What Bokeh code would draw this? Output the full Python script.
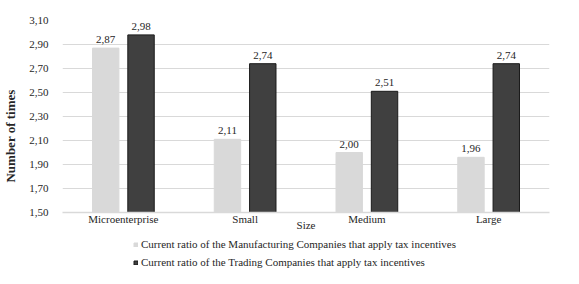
from bokeh.plotting import figure
from bokeh.models import ColumnDataSource, FixedTicker, Range1d, LabelSet, Legend, LegendItem
from bokeh.layouts import column
from bokeh.embed import file_html
from bokeh.resources import INLINE

categories = ["Microenterprise", "Small", "Medium", "Large"]
manufacturing = [2.87, 2.11, 2.00, 1.96]
trading = [2.98, 2.74, 2.51, 2.74]
y_ticks = [1.50, 1.70, 1.90, 2.10, 2.30, 2.50, 2.70, 2.90, 3.10]
series_names = ["Current ratio of the Manufacturing Companies that apply tax incentives",
                "Current ratio of the Trading Companies that apply tax incentives"]

FONT = "Liberation Serif"
LIGHT = "#d9d9d9"
DARK = "#404040"
fmt = lambda v: f"{v:.2f}".replace(".", ",")

xs = list(range(len(categories)))
off = 0.145
bw = 0.217

src_m = ColumnDataSource(dict(x=[i - off for i in xs], top=manufacturing,
                              lab=[fmt(v) for v in manufacturing]))
src_t = ColumnDataSource(dict(x=[i + off for i in xs], top=trading,
                              lab=[fmt(v) for v in trading]))

p = figure(width=563, height=236, output_backend="svg", toolbar_location=None,
           x_range=Range1d(-0.5, len(categories) - 0.5), y_range=Range1d(1.50, 3.10),
           min_border_left=52, min_border_right=14, min_border_top=20, min_border_bottom=24)
p.outline_line_color = None

p.vbar(x="x", top="top", bottom=1.5, width=bw, source=src_m,
       fill_color=LIGHT, line_color=LIGHT)
p.vbar(x="x", top="top", bottom=1.5, width=bw, source=src_t,
       fill_color=DARK, line_color="#1a1a1a", line_width=1)

for s in (src_m, src_t):
    p.add_layout(LabelSet(x="x", y="top", text="lab", source=s, y_offset=5,
                          text_align="center", text_baseline="bottom",
                          text_font=FONT, text_font_size="11px", text_color="#262626"))

# y axis
p.yaxis.ticker = FixedTicker(ticks=y_ticks)
p.yaxis.major_label_overrides = {t: fmt(t) for t in y_ticks}
p.yaxis.axis_line_color = None
p.yaxis.major_tick_line_color = None
p.yaxis.minor_tick_line_color = None
p.yaxis.major_label_text_font = FONT
p.yaxis.major_label_text_font_size = "11px"
p.yaxis.major_label_text_color = "#262626"
p.yaxis.major_label_standoff = 8
p.yaxis.axis_label = "Number of times" + "\u00a0" * 12
p.yaxis.axis_label_text_font = FONT
p.yaxis.axis_label_text_font_style = "bold"
p.yaxis.axis_label_text_font_size = "13px"
p.yaxis.axis_label_text_color = "#262626"
p.yaxis.axis_label_standoff = 8

# x axis
p.xaxis.ticker = FixedTicker(ticks=xs)
p.xaxis.major_label_overrides = {i: c for i, c in zip(xs, categories)}
p.xaxis.axis_line_color = LIGHT
p.xaxis.axis_line_width = 1.5
p.xaxis.major_tick_line_color = None
p.xaxis.minor_tick_line_color = None
p.xaxis.major_label_text_font = FONT
p.xaxis.major_label_text_font_size = "11px"
p.xaxis.major_label_text_color = "#262626"
p.xaxis.major_label_standoff = -6
p.xaxis.axis_label = "Size"
p.xaxis.axis_label_text_font = FONT
p.xaxis.axis_label_text_font_style = "normal"
p.xaxis.axis_label_text_font_size = "11px"
p.xaxis.axis_label_text_color = "#262626"
p.xaxis.axis_label_standoff = -9

p.xgrid.grid_line_color = None
p.ygrid.grid_line_color = LIGHT
p.ygrid.grid_line_width = 1

# legend strip (series drawn out of view, only their legend entries show)
p2 = figure(width=563, height=40, output_backend="svg", toolbar_location=None,
            x_range=Range1d(-0.5, len(categories) - 0.5), y_range=Range1d(100, 101),
            x_axis_location=None, y_axis_location=None,
            min_border=0, min_border_left=0, min_border_right=0,
            min_border_top=0, min_border_bottom=0)
p2.grid.visible = False
p2.outline_line_color = None
d_m = p2.vbar(x=xs, top=manufacturing, width=bw, fill_color=LIGHT, line_color=LIGHT)
d_t = p2.vbar(x=xs, top=trading, width=bw, fill_color=DARK, line_color="#1a1a1a")

legend = Legend(items=[LegendItem(label=series_names[0], renderers=[d_m]),
                       LegendItem(label=series_names[1], renderers=[d_t])],
                orientation="vertical", location=(71, 7),
                label_text_font=FONT, label_text_font_size="11px", label_text_color="#262626",
                glyph_width=5, glyph_height=5, label_standoff=3, spacing=4,
                padding=0, margin=0, border_line_color=None, background_fill_alpha=0,
                label_height=14)
p2.add_layout(legend, "center")

layout = column(p, p2, spacing=0)
open("out.html", "w").write(file_html(layout, INLINE))
